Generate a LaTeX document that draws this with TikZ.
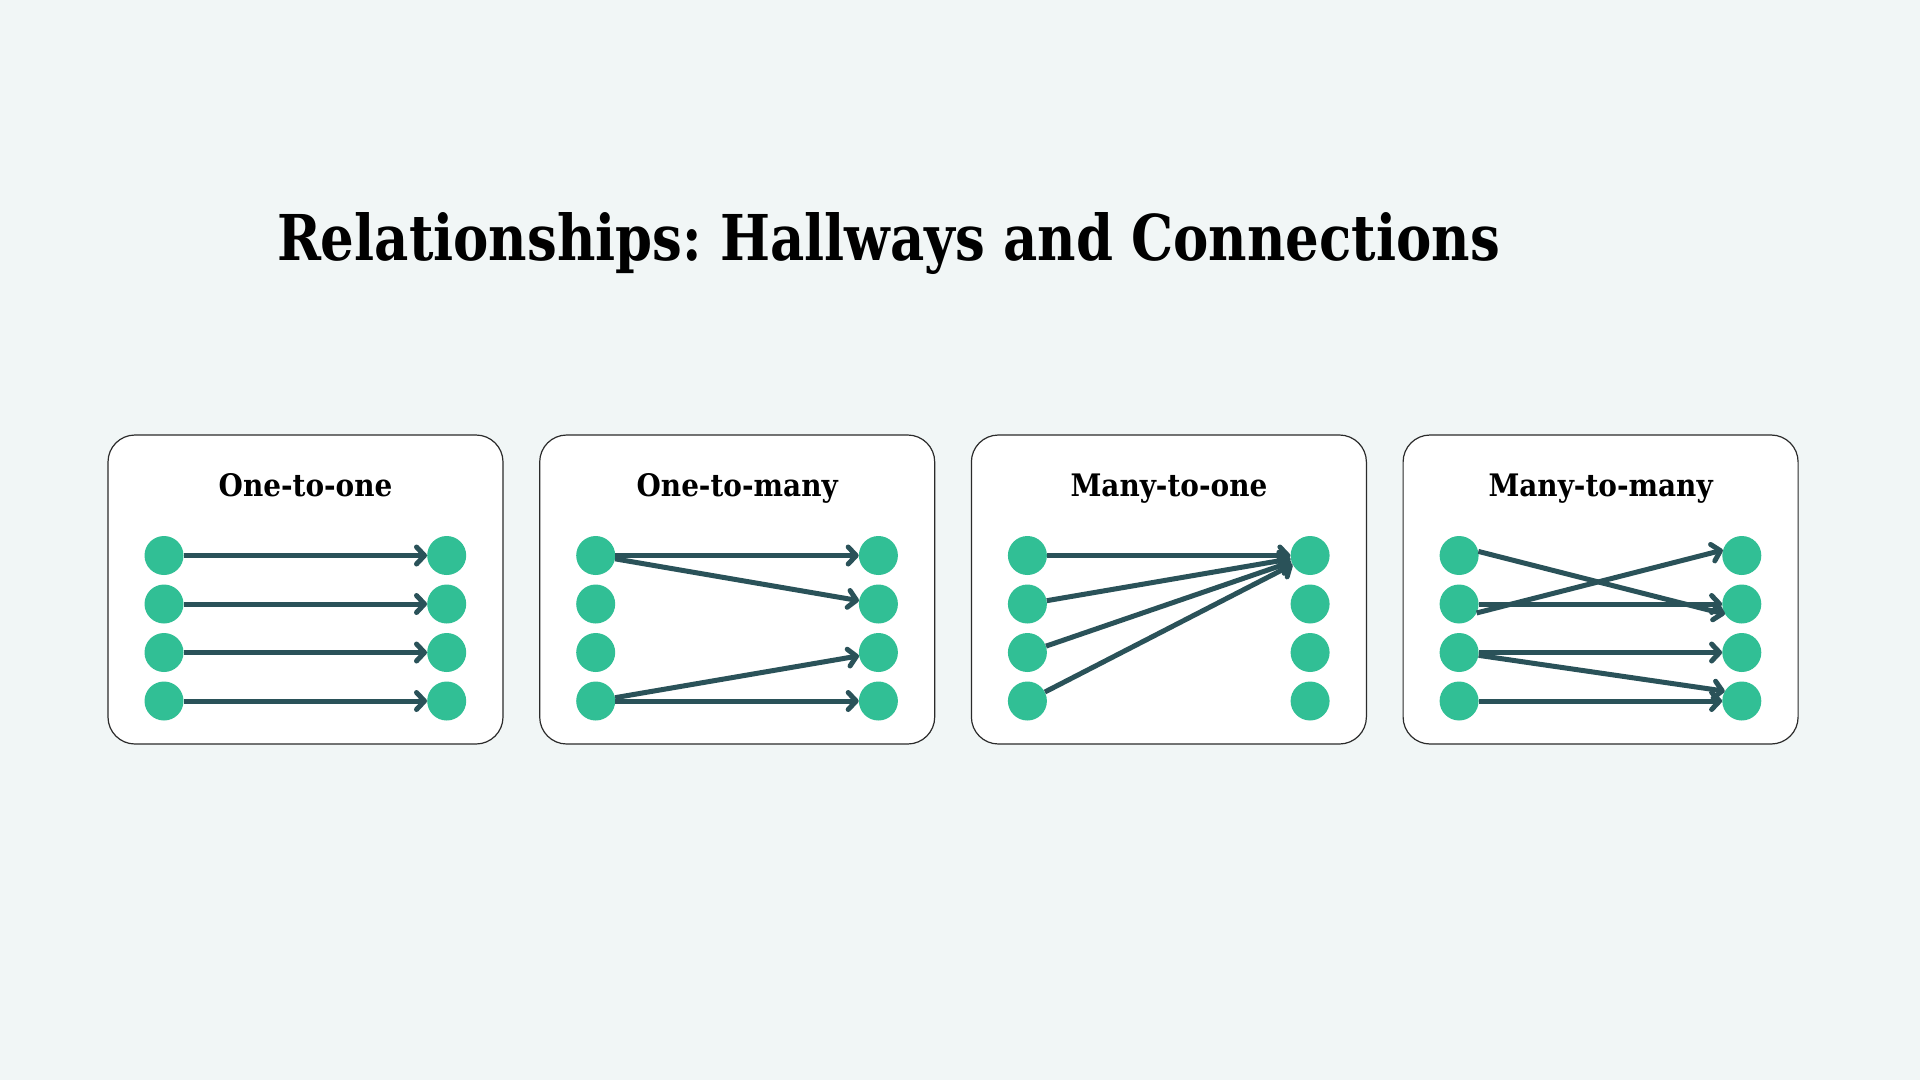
\documentclass[tikz,border=0pt]{standalone}
\usepackage{fontspec}
\newfontfamily\headfont{DejaVu Serif Condensed}
\usetikzlibrary{arrows.meta}
\definecolor{bgcol}{HTML}{F1F6F6}
\definecolor{dotgreen}{HTML}{31BF95}
\definecolor{linkcol}{HTML}{2A5259}
\definecolor{boxline}{HTML}{2B2B2B}
\frenchspacing

\begin{document}
\begin{tikzpicture}[x=1pt,y=-1pt]

    \tikzset{
      dot/.style={
        circle,
        fill=dotgreen,
        inner sep=0pt,
        minimum size=39pt,
      },
      panel/.style={
        draw=boxline,
        line width=1.2pt,
        fill=white,
        rounded corners=27pt,
        inner sep=0pt,
        minimum width=395pt,
        minimum height=309pt,
      },
      link/.style={
        draw=linkcol,
        line width=5pt,
        -{Straight Barb[length=8pt,width=17pt,round]},
      },
      heading/.style={
        anchor=base,
        inner sep=0pt,
        font=\fontsize{31}{31}\selectfont\headfont\bfseries,
      },
    }
    \fill[bgcol] (0,0) rectangle (1920,1080);
    \useasboundingbox (0,0) rectangle (1920,1080);

    \node[anchor=base,inner sep=0pt] (title) at (888.5,260.7)
      {\resizebox{1223pt}{48pt}{\fontsize{63}{63}\selectfont\headfont\bfseries Relationships: Hallways and Connections}};

	\node[panel] (boxa) at (305.5,589.5) {};
	\node[panel] (boxb) at (737.2,589.5) {};
	\node[panel] (boxc) at (1168.9,589.5) {};
	\node[panel] (boxd) at (1600.6,589.5) {};

	\node[heading] (heada) at (305.5,496) {One-to-one};
	\node[heading] (headb) at (737.2,496) {One-to-many};
	\node[heading] (headc) at (1168.9,496) {Many-to-one};
	\node[heading] (headd) at (1600.6,496) {Many-to-many};

	% one-to-one
	\node[dot] (al1) at (164,555.5) {};
	\node[dot] (al2) at (164,604) {};
	\node[dot] (al3) at (164,652.5) {};
	\node[dot] (al4) at (164,701) {};
	\node[dot] (ar1) at (446.7,555.5) {};
	\node[dot] (ar2) at (446.7,604) {};
	\node[dot] (ar3) at (446.7,652.5) {};
	\node[dot] (ar4) at (446.7,701) {};
	\draw[link] (al1) -- (ar1);
	\draw[link] (al2) -- (ar2);
	\draw[link] (al3) -- (ar3);
	\draw[link] (al4) -- (ar4);

	% one-to-many
	\node[dot] (bl1) at (595.7,555.5) {};
	\node[dot] (bl2) at (595.7,604) {};
	\node[dot] (bl3) at (595.7,652.5) {};
	\node[dot] (bl4) at (595.7,701) {};
	\node[dot] (br1) at (878.4,555.5) {};
	\node[dot] (br2) at (878.4,604) {};
	\node[dot] (br3) at (878.4,652.5) {};
	\node[dot] (br4) at (878.4,701) {};
	\draw[link] (bl1) -- (br1);
	\draw[link] (bl1) -- (br2);
	\draw[link] (bl4) -- (br3);
	\draw[link] (bl4) -- (br4);

	% many-to-one
	\node[dot] (cl1) at (1027.4,555.5) {};
	\node[dot] (cl2) at (1027.4,604) {};
	\node[dot] (cl3) at (1027.4,652.5) {};
	\node[dot] (cl4) at (1027.4,701) {};
	\node[dot] (cr1) at (1310.1,555.5) {};
	\node[dot] (cr2) at (1310.1,604) {};
	\node[dot] (cr3) at (1310.1,652.5) {};
	\node[dot] (cr4) at (1310.1,701) {};
	\draw[link] (cl1) -- (cr1);
	\draw[link] (cl2) -- (cr1);
	\draw[link] (cl3) -- (cr1);
	\draw[link] (cl4) -- (cr1);

	% many-to-many
	\node[dot] (dl1) at (1459.1,555.5) {};
	\node[dot] (dl2) at (1459.1,604) {};
	\node[dot] (dl3) at (1459.1,652.5) {};
	\node[dot] (dl4) at (1459.1,701) {};
	\node[dot] (dr1) at (1741.8,555.5) {};
	\node[dot] (dr2) at (1741.8,604) {};
	\node[dot] (dr3) at (1741.8,652.5) {};
	\node[dot] (dr4) at (1741.8,701) {};
	\draw[link] (dl1.12) -- (dr2.211);
	\draw[link] (dl2.-27) -- (dr1.164);
	\draw[link] (dl2) -- (dr2);
	\draw[link] (dl3) -- (dr3);
	\draw[link] (dl3) -- (dr4.150);
	\draw[link] (dl4) -- (dr4);

\end{tikzpicture}
\end{document}
